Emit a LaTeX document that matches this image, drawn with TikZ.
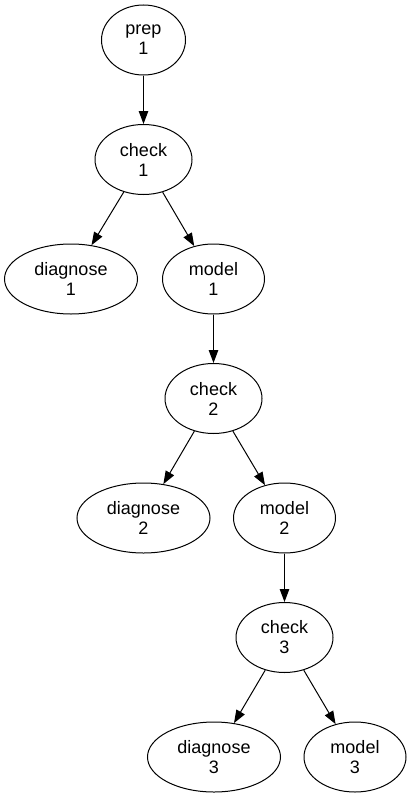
\documentclass[tikz,border=0pt]{standalone}
\usepackage{fontspec}
\setmainfont{Liberation Sans}
\usetikzlibrary{shapes.geometric,arrows.meta}
\begin{document}
\begin{tikzpicture}[x=1pt,y=-1pt,
  nd/.style={draw=black,line width=1pt,ellipse,inner sep=0pt,minimum height=70pt,align=center,
     font=\fontsize{18}{20}\selectfont},
  prepbox/.style={nd,minimum width=84pt},
  checkbox/.style={nd,minimum width=97pt},
  modelbox/.style={nd,minimum width=102pt},
  diagbox/.style={nd,minimum width=133pt},
  edge/.style={draw=black,line width=1pt,-{Triangle[length=13pt,width=9.5pt]}}]
\useasboundingbox (0,0) rectangle (411,800);
\node[prepbox] (p1) at (143.5,40) {prep\\1};
\node[checkbox] (c1) at (143.5,159.5) {check\\1};
\node[diagbox] (d1) at (71,279) {diagnose\\1};
\node[modelbox] (m1) at (213.5,279) {model\\1};
\node[checkbox] (c2) at (213.5,398.5) {check\\2};
\node[diagbox] (d2) at (143.5,518) {diagnose\\2};
\node[modelbox] (m2) at (284.5,518) {model\\2};
\node[checkbox] (c3) at (284.5,637.5) {check\\3};
\node[diagbox] (d3) at (214,757) {diagnose\\3};
\node[modelbox] (m3) at (355,757) {model\\3};
\draw[edge] (p1) -- (c1);
\draw[edge] (c1) -- (d1);
\draw[edge] (c1) -- (m1);
\draw[edge] (m1) -- (c2);
\draw[edge] (c2) -- (d2);
\draw[edge] (c2) -- (m2);
\draw[edge] (m2) -- (c3);
\draw[edge] (c3) -- (d3);
\draw[edge] (c3) -- (m3);
\end{tikzpicture}
\end{document}
